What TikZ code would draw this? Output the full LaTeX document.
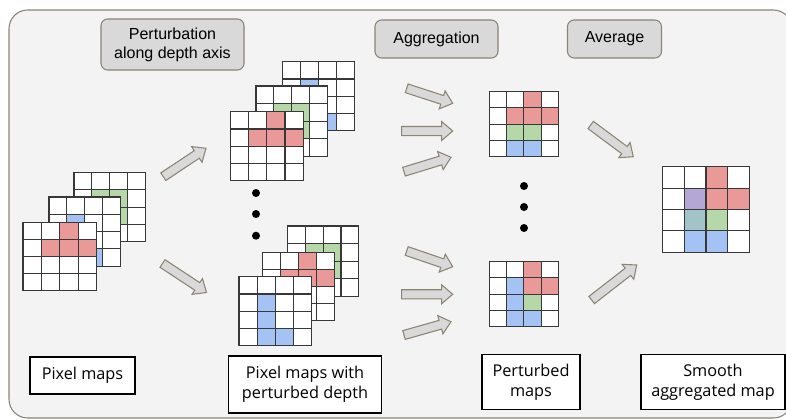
\documentclass[tikz,border=0pt]{standalone}
\usepackage{fontspec}
\setmainfont{Liberation Sans}
\newfontfamily\capfont{Open Sans}
\usetikzlibrary{calc}
\definecolor{bgfill}{HTML}{F3F3F3}
\definecolor{bgline}{HTML}{8C8475}
\definecolor{lblfill}{HTML}{D9D9D9}
\definecolor{cred}{HTML}{EA9999}
\definecolor{cgreen}{HTML}{B6D7A8}
\definecolor{cblue}{HTML}{A4C2F4}
\definecolor{cpurple}{HTML}{B4A7D6}
\definecolor{cteal}{HTML}{A2C4C9}
\definecolor{arfill}{HTML}{D9D9D9}
\definecolor{gridcol}{HTML}{383838}
\tikzset{
  gridln/.style={draw=gridcol, line width=0.8pt, line cap=rect},
  blockar/.style={draw=bgline, fill=arfill, line width=0.8pt, line join=miter},
  lbl/.style={draw=bgline, fill=lblfill, rounded corners=5pt, line width=0.8pt, align=center, font=\fontsize{12}{14.3}\selectfont, inner sep=0pt},
  capbox/.style={draw=black, fill=white, line width=1.1pt, align=center, font=\capfont\fontsize{12.2}{15}\selectfont, inner sep=0pt},
  dotst/.style={fill=black}
}
% #6 must be a macro holding the list of col/row/colour cells
\newcommand\pxgrid[6]{%
  \coordinate (#1) at (#2,#3);
  \fill[white] (#2,#3) rectangle ++({4*#4},{4*#5});
  \foreach \c/\r/\k in #6 {\fill[\k] ({#2+\c*#4},{#3+\r*#5}) rectangle ++(#4,#5);}
  \foreach \i in {0,...,4}{%
    \draw[gridln] ({#2+\i*#4},#3) -- ++(0,{4*#5});
    \draw[gridln] (#2,{#3+\i*#5}) -- ++({4*#4},0);}
}
\def\bs{3.4pt}\def\bw{7.1pt}\def\bh{8.3pt}
\newcommand\barrow[2]{%
  \draw[blockar] ($(#1)!\bs!90:(#2)$) -- ($($(#2)!\bh!(#1)$)!\bs!90:(#2)$)
    -- ($($(#2)!\bh!(#1)$)!\bw!90:(#2)$) -- (#2)
    -- ($($(#2)!\bh!(#1)$)!\bw!-90:(#2)$) -- ($($(#2)!\bh!(#1)$)!\bs!-90:(#2)$)
    -- ($(#1)!\bs!-90:(#2)$) -- cycle;}
\def\redT{2/0/cred,1/1/cred,2/1/cred,3/1/cred}
\def\greenS{1/1/cgreen,2/1/cgreen,1/2/cgreen,2/2/cgreen}
\def\blueL{1/1/cblue,1/2/cblue,1/3/cblue,2/3/cblue}
\def\pertA{2/0/cred,1/1/cred,2/1/cred,3/1/cred,1/2/cgreen,2/2/cgreen,1/3/cblue,2/3/cblue}
\def\pertB{2/0/cred,1/1/cblue,2/1/cred,3/1/cred,1/2/cblue,2/2/cgreen,1/3/cblue,2/3/cblue}
\def\smooth{2/0/cred,1/1/cpurple,2/1/cred,3/1/cred,1/2/cteal,2/2/cgreen,1/3/cblue,2/3/cblue}
\begin{document}
\begin{tikzpicture}[x=0.75pt,y=-0.75pt]
\useasboundingbox (0,0) rectangle (786,419);
% background panel
\draw[bgline, fill=bgfill, line width=0.8pt, rounded corners=14pt] (9,10) rectangle (792,418);

% top labels
\node[lbl, minimum width={143*0.75pt}, minimum height={51*0.75pt}] (pert) at (172.5,44.5) {Perturbation\\along depth axis};
\node[lbl, minimum width={123*0.75pt}, minimum height={38*0.75pt}] (aggr) at (436.5,39) {Aggregation};
\node[lbl, minimum width={94*0.75pt}, minimum height={38*0.75pt}] (avg) at (614.5,39) {Average};

% left stack
\pxgrid{L3}{74}{172.5}{17.8}{17.3}{\greenS}
\pxgrid{L2}{49}{197}{17.8}{17.3}{\blueL}
\pxgrid{L1}{23}{222.7}{18.4}{17}{\redT}

% top middle stack
\pxgrid{T3}{282.3}{61.7}{18}{17.3}{\blueL}
\pxgrid{T2}{256}{86}{17.9}{17.6}{\greenS}
\pxgrid{T1}{230.7}{111.7}{18.1}{17.3}{\redT}

% bottom middle stack
\pxgrid{B3}{287.3}{226}{17.9}{17.6}{\greenS}
\pxgrid{B2}{262.3}{252.7}{18.1}{17}{\redT}
\pxgrid{B1}{239}{276.7}{18.1}{17.3}{\blueL}

% perturbed maps
\pxgrid{P1}{489.3}{91.7}{17.25}{16.25}{\pertA}
\pxgrid{P2}{489.3}{261.7}{17.25}{16.25}{\pertB}

% final map
\pxgrid{F}{662.7}{166.7}{21.65}{21.4}{\smooth}

% dots
\foreach \yy in {193,214,235.7}{\fill[dotst] (256,\yy) circle (3pt);}
\foreach \yy in {186,207,228}{\fill[dotst] (524,\yy) circle (3pt);}

% arrow end points
\coordinate (a1s) at (163.3,176.7); \coordinate (a1e) at (206,148.3);
\coordinate (a2s) at (162.5,263.5); \coordinate (a2e) at (206.5,292.5);
\coordinate (m1s) at (406.7,88.3);  \coordinate (m1e) at (452.7,103.3);
\coordinate (m2s) at (401.7,131);   \coordinate (m2e) at (452.7,131);
\coordinate (m3s) at (404,171.7);   \coordinate (m3e) at (451,157.3);
\coordinate (n1s) at (406.7,251);   \coordinate (n1e) at (452.7,266.7);
\coordinate (n2s) at (401.7,294.3); \coordinate (n2e) at (452.7,294.3);
\coordinate (n3s) at (404,335);     \coordinate (n3e) at (451,321.7);
\coordinate (r1s) at (590.7,125);   \coordinate (r1e) at (633.3,156.7);
\coordinate (r2s) at (591.7,300);   \coordinate (r2e) at (636.7,265);
\barrow{a1s}{a1e}\barrow{a2s}{a2e}
\barrow{m1s}{m1e}\barrow{m2s}{m2e}\barrow{m3s}{m3e}
\barrow{n1s}{n1e}\barrow{n2s}{n2e}\barrow{n3s}{n3e}
\barrow{r1s}{r1e}\barrow{r2s}{r2e}

% bottom captions
\node[capbox, minimum width={105*0.75pt}, minimum height={37*0.75pt}] (c1) at (82.5,375.3) {Pixel maps};
\node[capbox, minimum width={153*0.75pt}, minimum height={57*0.75pt}] (c2) at (305,384.7) {Pixel maps with\\perturbed depth};
\node[capbox, minimum width={98*0.75pt}, minimum height={55*0.75pt}] (c3) at (531,382) {Perturbed\\maps};
\node[capbox, minimum width={144*0.75pt}, minimum height={55*0.75pt}] (c4) at (713,382) {Smooth\\aggregated map};
\end{tikzpicture}
\end{document}
